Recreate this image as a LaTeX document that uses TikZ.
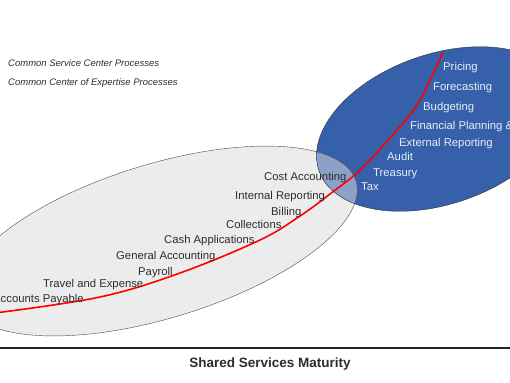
\documentclass[tikz,border=0pt]{standalone}
\usepackage{fontspec}
\setmainfont{Liberation Sans}
\definecolor{cscgray}{RGB}{236,236,236}
\definecolor{coeblue}{RGB}{54,96,170}
\definecolor{overblue}{RGB}{140,160,200}
\definecolor{labtext}{RGB}{45,45,45}
\definecolor{labwhite}{RGB}{232,238,248}
\tikzset{
  lab/.style={anchor=base west, inner sep=0pt, text=labtext, font=\fontsize{11.3}{13}\selectfont},
  labw/.style={lab, text=labwhite},
  legend/.style={anchor=base west, inner sep=0pt, text=labtext, font=\fontsize{9.5}{11}\selectfont\itshape},
  redline/.style={red, line width=1.6pt},
}
\begin{document}
\begin{tikzpicture}[x=1pt, y=-1pt]
\useasboundingbox (0,0) rectangle (510,382);

	% ellipses
	\fill [cscgray, rotate around={17:(160,241)}] (160,241) ellipse [x radius=205, y radius=77];
	\fill [coeblue, rotate around={19:(440,129)}] (440,129) ellipse [x radius=128, y radius=75];
	\begin{scope}
		\clip [rotate around={17:(160,241)}] (160,241) ellipse [x radius=205, y radius=77];
		\fill [overblue, rotate around={19:(440,129)}] (440,129) ellipse [x radius=128, y radius=75];
	\end{scope}
	\draw [black!70, thin, rotate around={17:(160,241)}] (160,241) ellipse [x radius=205, y radius=77];
	\draw [black!80, thin, rotate around={19:(440,129)}] (440,129) ellipse [x radius=128, y radius=75];

	% maturity curve
	\draw [redline] plot [smooth, tension=0.6] coordinates {(-5,313) (100,297) (180,273) (260,240) (300,216) (330,194) (360,170) (397,130) (420,100) (443,52)};

	% legend
	\node [legend] (csc) at (8,66.5) {Common Service Center Processes};
	\node [legend] (coe) at (8,85.5) {Common Center of Expertise Processes};

	% label
	\node [labw] (pricing) at (443,70.7) {Pricing};
	\node [labw] (forecast) at (433,90.7) {Forecasting};
	\node [labw] (budget) at (423,110.7) {Budgeting};
	\node [labw] (fpa) at (410,129.7) {Financial Planning \&};
	\node [labw] (extrep) at (399,146.7) {External Reporting};
	\node [labw] (audit) at (387,160.7) {Audit};
	\node [labw] (treasury) at (373,176.7) {Treasury};
	\node [labw] (tax) at (361,190.7) {Tax};

	\node [lab] (costacc) at (264,180.7) {Cost Accounting};
	\node [lab] (intrep) at (235,199.7) {Internal Reporting};
	\node [lab] (billing) at (271,215.7) {Billing};
	\node [lab] (collect) at (226,228.7) {Collections};
	\node [lab] (cashapp) at (164,243.7) {Cash Applications};
	\node [lab] (genacc) at (116,259.7) {General Accounting};
	\node [lab] (payroll) at (138,275.7) {Payroll};
	\node [lab] (travel) at (43,287.7) {Travel and Expense};
	\node [lab] (acctpay) at (-7,302.7) {Accounts Payable};

	% axis
	\draw [black!85, line width=1.5pt] (0,348) -- (510,348);
	\node [anchor=base, inner sep=0pt, font=\fontsize{13.5}{15}\selectfont\bfseries, text=labtext] (maturity) at (270,367) {Shared Services Maturity};
\end{tikzpicture}
\end{document}
